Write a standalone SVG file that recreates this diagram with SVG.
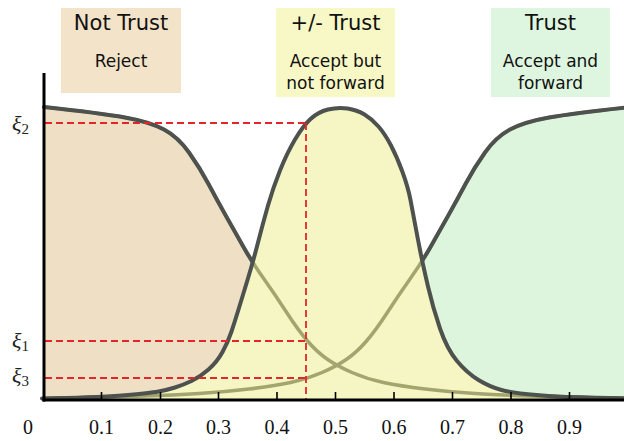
<svg xmlns="http://www.w3.org/2000/svg" width="624" height="441" viewBox="0 0 624 441">
<defs>
<style>
.title{font-family:"DejaVu Sans",Verdana,sans-serif;font-size:21px;fill:#111;text-anchor:middle}
.sub{font-family:"DejaVu Sans",Verdana,sans-serif;font-size:17px;fill:#111;text-anchor:middle}
.num{font-family:"Liberation Serif","Times New Roman",serif;font-size:20px;fill:#111;text-anchor:middle}
.xi{font-family:"Liberation Serif","Times New Roman",serif;font-style:italic;font-size:22px;fill:#222}
.xs{font-style:normal;font-size:15px}
.dark{fill:none;stroke:#4e524e;stroke-width:4;stroke-linejoin:round;stroke-linecap:round}
.olive{fill:none;stroke:#a2a56e;stroke-width:3.5}
.dash{fill:none;stroke:#e3262b;stroke-width:1.8;stroke-dasharray:7 4}
.tick{stroke:#000;stroke-width:1.6}
</style>
<path id="nCurve" d="M44,107 Q100,113 125,117.5 Q150,122 164,129.5 Q178,137 189,152.5 Q200,168 208.5,184 Q217,200 226,216 Q235,232 243.5,247 Q252,262 264,279 Q276,296 287,313 Q298,330 307.5,341 Q317,352 327,359 Q337,366 352,372.5 Q367,379 383.5,382.5 Q400,386 425,389 Q450,392 475,393.5 Q500,395 530,396 Q560,397 596,397.75 L632,398.5"/>
<path id="nArea" d="M44,107 Q100,113 125,117.5 Q150,122 164,129.5 Q178,137 189,152.5 Q200,168 208.5,184 Q217,200 226,216 Q235,232 243.5,247 Q252,262 264,279 Q276,296 287,313 Q298,330 307.5,341 Q317,352 327,359 Q337,366 352,372.5 Q367,379 383.5,382.5 Q400,386 425,389 Q450,392 475,393.5 Q500,395 530,396 Q560,397 596,397.75 L632,398.5 L632,401 L44,401 Z"/>
<path id="bellCurve" d="M44,399 Q100,397.5 125,395.25 Q150,393 158.5,391.5 Q167,390 175,387.5 Q183,385 191.5,381 Q200,377 208.5,369.5 Q217,362 222.5,352 Q228,342 231.5,331.5 Q235,321 238.5,309.5 Q242,298 247.5,280 Q253,262 258,242.5 Q263,223 268,205.5 Q273,188 280,170.5 Q287,153 295,139.5 Q303,126 310.5,119 Q318,112 328,109.5 Q338,107 347.5,108.5 Q357,110 364.5,114.5 Q372,119 378.5,126.5 Q385,134 391,145.5 Q397,157 402.5,172 Q408,187 410.5,200 Q413,213 415.5,226.5 Q418,240 420.5,252.5 Q423,265 428,286.5 Q433,308 440,328.5 Q447,349 457,361 Q467,373 478.5,380 Q490,387 501.5,390 Q513,393 536.5,395 Q560,397 592,398 L624,399"/>
<mask id="outsideBell" maskUnits="userSpaceOnUse" x="0" y="0" width="624" height="441">
<rect width="624" height="441" fill="#fff"/>
<use href="#bellCurve" fill="#000"/>
</mask>
</defs>

<rect width="624" height="441" fill="#fff"/>

<g id="node-not-trust">
<rect x="61" y="8" width="120" height="85" fill="#f3e3c9"/>
<text class="title" x="121" y="30">Not Trust</text>
<text class="sub" x="121" y="67">Reject</text>
</g>
<g id="node-partial-trust">
<rect x="276" y="8" width="119" height="89" fill="#f7f8c6"/>
<text class="title" x="335.5" y="30">+/- Trust</text>
<text class="sub" x="335.5" y="67">Accept but</text>
<text class="sub" x="335.5" y="89">not forward</text>
</g>
<g id="node-trust">
<rect x="491" y="8" width="119" height="89" fill="#def6df"/>
<text class="title" x="550.5" y="30">Trust</text>
<text class="sub" x="550.5" y="67">Accept and</text>
<text class="sub" x="550.5" y="89">forward</text>
</g>

<g id="membership-areas">
<use href="#nArea" fill="#efdfc4"/>
<use href="#nArea" fill="#ddf5dd" transform="matrix(-1 0 0 1 674 0)"/>
<use href="#bellCurve" fill="#f5f6c3"/>
</g>

<g id="membership-curves">
<use href="#nCurve" class="olive"/>
<use href="#nCurve" class="olive" transform="matrix(-1 0 0 1 674 0)"/>
<g mask="url(#outsideBell)">
<use href="#nCurve" class="dark"/>
<use href="#nCurve" class="dark" transform="matrix(-1 0 0 1 674 0)"/>
</g>
<use href="#bellCurve" class="dark"/>
</g>

<g id="connectors">
<line class="dash" x1="45" y1="123" x2="306" y2="123"/>
<line class="dash" x1="45" y1="341" x2="306" y2="341"/>
<line class="dash" x1="45" y1="378" x2="306" y2="378"/>
<line class="dash" x1="306" y1="123" x2="306" y2="400"/>
</g>

<g id="axes">
<line x1="44" y1="73" x2="44" y2="401.5" stroke="#000" stroke-width="3"/>
<line x1="42.5" y1="400" x2="624" y2="400" stroke="#000" stroke-width="3.2"/>
<line class="tick" x1="101.5" y1="392" x2="101.5" y2="400"/>
<line class="tick" x1="160.5" y1="392" x2="160.5" y2="400"/>
<line class="tick" x1="218.5" y1="392" x2="218.5" y2="400"/>
<line class="tick" x1="277" y1="392" x2="277" y2="400"/>
<line class="tick" x1="335.5" y1="392" x2="335.5" y2="400"/>
<line class="tick" x1="394" y1="392" x2="394" y2="400"/>
<line class="tick" x1="452.5" y1="392" x2="452.5" y2="400"/>
<line class="tick" x1="511" y1="392" x2="511" y2="400"/>
<line class="tick" x1="569.5" y1="392" x2="569.5" y2="400"/>
<text class="num" x="28" y="434">0</text>
<text class="num" x="101.5" y="434">0.1</text>
<text class="num" x="160.5" y="434">0.2</text>
<text class="num" x="218.5" y="434">0.3</text>
<text class="num" x="277" y="434">0.4</text>
<text class="num" x="335.5" y="434">0.5</text>
<text class="num" x="394" y="434">0.6</text>
<text class="num" x="452.5" y="434">0.7</text>
<text class="num" x="511" y="434">0.8</text>
<text class="num" x="569.5" y="434">0.9</text>
<text class="xi" x="12" y="131">ξ<tspan class="xs" dy="3">2</tspan></text>
<text class="xi" x="12" y="348">ξ<tspan class="xs" dy="3">1</tspan></text>
<text class="xi" x="12" y="383">ξ<tspan class="xs" dy="3">3</tspan></text>
</g>
</svg>
